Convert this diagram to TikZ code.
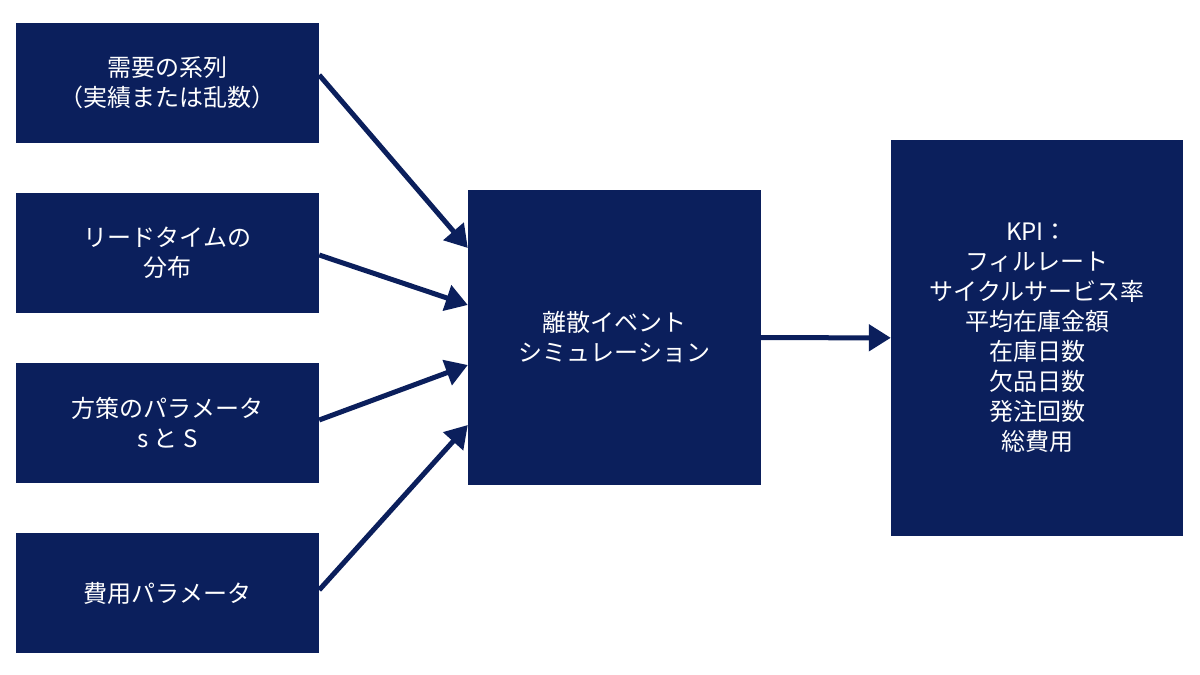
\documentclass[tikz,border=0pt]{standalone}
\usepackage{fontspec}
\setmainfont{Noto Sans CJK JP}
\usetikzlibrary{positioning,arrows.meta}
\definecolor{navy}{HTML}{0B1F5C}
\tikzset{
  box/.style={fill=navy,text=white,font=\fontsize{24}{30}\selectfont,align=center,inner sep=0pt},
  flow/.style={draw=navy,line width=5pt,-{Triangle[length=22pt,width=26pt]}}
}
\begin{document}
\begin{tikzpicture}[x=1pt,y=1pt]
  \useasboundingbox (0,0) rectangle (1200,675);
  \node[box,minimum width=303pt,minimum height=120pt] (demand) at (167.5,592) {需要の系列\\（実績または乱数）};
  \node[box,minimum width=303pt,minimum height=120pt] (lead) at (167.5,422) {リードタイムの\\分布};
  \node[box,minimum width=303pt,minimum height=120pt] (policy) at (167.5,252) {方策のパラメータ\\s と S};
  \node[box,minimum width=303pt,minimum height=120pt] (cost) at (167.5,82) {費用パラメータ};
  \node[box,minimum width=293pt,minimum height=295pt] (sim) at (614.5,337.5) {離散イベント\\シミュレーション};
  \node[box,minimum width=292pt,minimum height=396pt] (kpi) at (1037,337) {KPI：\\フィルレート\\サイクルサービス率\\平均在庫金額\\在庫日数\\欠品日数\\発注回数\\総費用};
  % arrows into the simulation
  \draw[flow] (demand.east |- 0,600) -- (sim.west |- 0,427);
  \draw[flow] (lead.east |- 0,420) -- (sim.west |- 0,370);
  \draw[flow] (policy.east |- 0,255) -- (sim.west |- 0,310);
  \draw[flow] (cost.east |- 0,85) -- (sim.west |- 0,250);
  \draw[flow] (sim) -- (kpi);
\end{tikzpicture}
\end{document}
